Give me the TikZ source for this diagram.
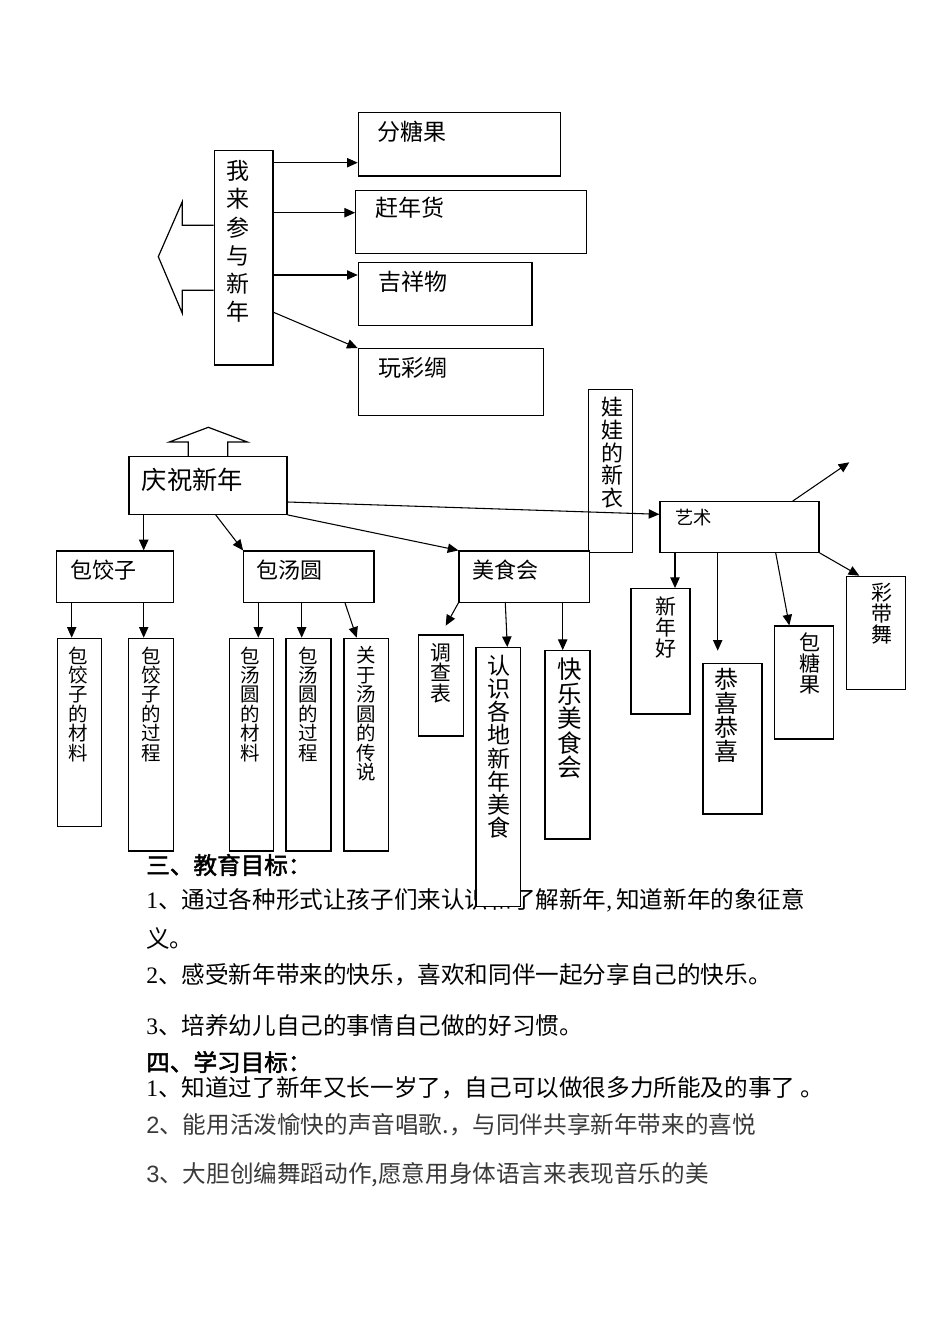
\documentclass[tikz,border=0pt]{standalone}
\usepackage{fontspec}
\setmainfont{Noto Sans CJK SC}[AutoFakeBold=2]
\newfontfamily\numfont{Liberation Serif}
\newfontfamily\numsans{Liberation Sans}
\usepackage{xcolor}
\usetikzlibrary{arrows.meta,fit}
\definecolor{softblack}{RGB}{58,58,58}
\tikzset{
  box/.style={draw, fill=white, line width=0.9pt, inner sep=0pt},
  txt/.style={inner sep=0pt, anchor=west},
  vtxt/.style={inner sep=0pt, anchor=north, align=center},
  body/.style={inner sep=0pt, anchor=west, font=\fontsize{17.7}{17.7}\selectfont},
  arr/.style={-{Triangle[length=8pt,width=7pt]}, line width=0.8pt},
  bigarrow/.style={line width=0.9pt, line join=miter},
}

\begin{document}
\begin{tikzpicture}[x=0.75pt,y=0.75pt,yscale=-1,xscale=1]
\useasboundingbox (0,0) rectangle (950,1344);

% Text Node
\node[body] (edu) at (146,865) {\bfseries 三、教育目标：};
\node[body] (edu1) at (146,900) {{\numfont 1}、通过各种形式让孩子们来认识和了解新年{\numfont ,\,}知道新年的象征意};
\node[body] (edu1b) at (146,938) {义。};
\node[body] (edu2) at (146,975) {{\numfont 2}、感受新年带来的快乐，喜欢和同伴一起分享自己的快乐。};
\node[body] (edu3) at (146,1025) {{\numfont 3}、培养幼儿自己的事情自己做的好习惯。};
\node[body] (stu) at (146,1062) {\bfseries 四、学习目标：};
\node[body] (stu1) at (146,1088) {{\numfont 1}、知道过了新年又长一岁了，自己可以做很多力所能及的事了 。};
\node[body, text=softblack] (stu2) at (146,1125) {{\numsans 2}、能用活泼愉快的声音唱歌.，与同伴共享新年带来的喜悦};
\node[body, text=softblack] (stu3) at (146,1175) {{\numsans 3}、大胆创编舞蹈动作,愿意用身体语言来表现音乐的美};

%Shape: Rectangle
\node[box, fit={(214.3,150.7) (273,365)}] (wo) {};
\node[box, fit={(358.3,112.7) (560.7,176)}] (fen) {};
\node[box, fit={(355.7,190.3) (586.7,253.7)}] (gan) {};
\node[box, fit={(358.3,262.3) (532,325.3)}] (ji) {};
\node[box, fit={(358.3,348.7) (543.7,415.3)}] (wan) {};
%Shape: Rectangle
\node[box, fit={(129,456.7) (287,514.3)}] (qing) {};
\node[box, fit={(56.7,551) (173.3,602.3)}] (jz) {};
\node[box, fit={(243.7,551) (374,602.3)}] (ty) {};
\node[box, fit={(588.3,389.3) (632.3,552.3)}] (wawa) {};
\node[box, fit={(459,551) (589.3,602.3)}] (ms) {};
\node[box, fit={(660,501.7) (819,552.3)}] (ys) {};
%Shape: Rectangle
\node[box, fit={(57.3,638.3) (101.7,826.7)}] (jz1) {};
\node[box, fit={(128.3,638.3) (173.3,851)}] (jz2) {};
\node[box, fit={(229.3,638.3) (273.3,851)}] (ty1) {};
\node[box, fit={(286,638.3) (331,851)}] (ty2) {};
\node[box, fit={(344,638.3) (388.3,851)}] (ty3) {};
\node[box, fit={(418.3,635) (463.3,736)}] (ms1) {};
\node[box, fit={(476,647.7) (520.7,906.7)}] (ms2) {};
\node[box, fit={(545,650.7) (590,839)}] (ms3) {};
\node[box, fit={(631,588.7) (690,714)}] (ys1) {};
\node[box, fit={(703,663.3) (762,814)}] (ys2) {};
\node[box, fit={(774.7,626) (833.7,739)}] (ys3) {};
\node[box, fit={(846.7,576.3) (905.3,689.3)}] (ys4) {};

%Shape: Left Arrow
\draw[bigarrow] (wo.west |- 0,225.3) -- (182.3,225.3) -- (182.3,201.7) -- (158.3,256.7) -- (182.3,313.3) -- (182.3,290.3) -- (wo.west |- 0,290.3);
%Shape: Up Arrow
\draw[bigarrow] (qing.north -| 188.3,0) -- (188.3,442) -- (169.3,442) -- (208.3,427.3) -- (247.3,442) -- (227.7,442) -- (qing.north -| 227.7,0);

% Text Node
\node[vtxt, font=\fontsize{17.25}{21.2}\selectfont] (wo-t) at (238.3,160.2) {我\\来\\参\\与\\新\\年};
\node[txt, font=\fontsize{17.25}{17.25}\selectfont] (fen-t) at (377.7,131.7) {分糖果};
\node[txt, font=\fontsize{17.25}{17.25}\selectfont] (gan-t) at (375,208) {赶年货};
\node[txt, font=\fontsize{17.25}{17.25}\selectfont] (ji-t) at (378,281.7) {吉祥物};
\node[txt, font=\fontsize{17.25}{17.25}\selectfont] (wan-t) at (378,368.3) {玩彩绸};
% Text Node
\node[txt, font=\fontsize{19}{19}\selectfont] (qing-t) at (141.7,480) {庆祝新年};
\node[txt, font=\fontsize{16.5}{16.5}\selectfont] (jz-t) at (70,570) {包饺子};
\node[txt, font=\fontsize{16.5}{16.5}\selectfont] (ty-t) at (256.7,570) {包汤圆};
\node[txt, font=\fontsize{16.5}{16.5}\selectfont] (ms-t) at (472.3,570) {美食会};
\node[txt, font=\fontsize{13.7}{13.7}\selectfont] (ys-t) at (675,517.3) {艺术};
\node[vtxt, font=\fontsize{16.5}{16.9}\selectfont] (wawa-t) at (612.3,397.3) {娃\\娃\\的\\新\\衣};
% Text Node
\node[vtxt, font=\fontsize{14.6}{14.6}\selectfont] (jz1-t) at (78.3,646.3) {包\\饺\\子\\的\\材\\料};
\node[vtxt, font=\fontsize{14.6}{14.6}\selectfont] (jz2-t) at (151,646.3) {包\\饺\\子\\的\\过\\程};
\node[vtxt, font=\fontsize{14.6}{14.6}\selectfont] (ty1-t) at (250.7,646.3) {包\\汤\\圆\\的\\材\\料};
\node[vtxt, font=\fontsize{14.6}{14.6}\selectfont] (ty2-t) at (308.3,646.3) {包\\汤\\圆\\的\\过\\程};
\node[vtxt, font=\fontsize{14.6}{14.6}\selectfont] (ty3-t) at (366,646.3) {关\\于\\汤\\圆\\的\\传\\说};
\node[vtxt, font=\fontsize{15.6}{15.6}\selectfont] (ms1-t) at (440.7,642.9) {调\\查\\表};
\node[vtxt, font=\fontsize{17.25}{17.3}\selectfont] (ms2-t) at (499,655.2) {认\\识\\各\\地\\新\\年\\美\\食};
\node[vtxt, font=\fontsize{18.4}{18.4}\selectfont] (ms3-t) at (570,657.7) {快\\乐\\美\\食\\会};
\node[vtxt, font=\fontsize{15.75}{15.75}\selectfont] (ys1-t) at (666,596.2) {新\\年\\好};
\node[vtxt, font=\fontsize{18}{18}\selectfont] (ys2-t) at (726.7,668) {恭\\喜\\恭\\喜};
\node[vtxt, font=\fontsize{15.75}{15.75}\selectfont] (ys3-t) at (810,632.8) {包\\糖\\果};
\node[vtxt, font=\fontsize{15.75}{15.75}\selectfont] (ys4-t) at (881.7,582.8) {彩\\带\\舞};

\coordinate (ys-out) at (849.3,462.3);
\coordinate (ms1-tip) at (445.7,625.7);
\coordinate (ys2-tip) at (717.7,650.7);

%Straight Lines
\draw[arr] (wo.east |- 0,162.7) -- (fen.west |- 0,162.7);
\draw[arr] (wo.east |- 0,212.7) -- (gan.west |- 0,212.7);
\draw[arr] (wo.east |- 0,275) -- (ji.west |- 0,275);
\draw[arr] (wo.east |- 0,312.3) -- (wan.north west);
%Straight Lines
\draw[arr] (qing.south -| 143.7,0) -- (jz.north -| 143.7,0);
\draw[arr] (qing.south -| 215.7,0) -- (ty.north west);
\draw[arr] (qing.south east) -- (ms.north west);
\draw[arr] (qing.east |- 0,502) -- (ys.west |- 0,514.3);
\draw[arr] (ys.north -| 792.7,0) -- (ys-out);
%Straight Lines
\draw[arr] (jz.south -| 71.7,0) -- (jz1.north -| 71.7,0);
\draw[arr] (jz.south -| 143.7,0) -- (jz2.north -| 143.7,0);
\draw[arr] (ty.south -| 258.3,0) -- (ty1.north -| 258.3,0);
\draw[arr] (ty.south -| 301.7,0) -- (ty2.north -| 301.7,0);
\draw[arr] (ty.south -| 345,0) -- (ty3.north -| 356.7,0);
\draw[arr] (ms.south west) -- (ms1-tip);
\draw[arr] (ms.south -| 505.3,0) -- (ms2.north -| 507.3,0);
\draw[arr] (ms.south -| 562.7,0) -- (ms3.north -| 562.7,0);
\draw[arr] (ys.south -| 675,0) -- (ys1.north -| 675,0);
\draw[arr] (ys.south -| 717.7,0) -- (ys2-tip);
\draw[arr] (ys.south -| 775.7,0) -- (ys3.north -| 789.3,0);
\draw[arr] (ys.south east) -- (ys4.north -| 859.3,0);

\end{tikzpicture}
\end{document}
